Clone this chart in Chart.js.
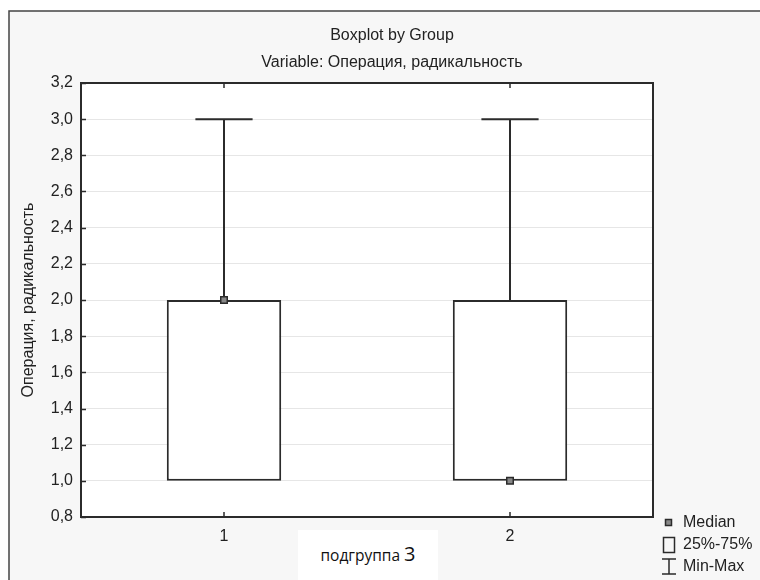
<!DOCTYPE html>
<html lang="ru">
<head>
<meta charset="utf-8">
<title>Boxplot by Group</title>
<script src="https://cdn.jsdelivr.net/npm/chart.js@4/dist/chart.umd.min.js"></script>
<style>
    body { margin: 0; background: #fff; }
    #wrap { position: relative; width: 760px; height: 580px; }
    #x-title {
        position: absolute;
        left: 298px;
        top: 530px;
        width: 140px;
        height: 50px;
        background: #fff;
        font-family: "Open Sans", "Noto Sans", sans-serif;
        font-size: 15.5px;
        color: #111;
        text-align: center;
        line-height: 48px;
    }
    #x-title span { font-size: 20px; }
</style>
</head>
<body>
<div id="wrap">
    <canvas id="chart-box" width="760" height="580"></canvas>
    <div id="x-title">подгруппа <span>3</span></div>
</div>
<script>
const groups = ["1", "2"];
const mins = [1, 1];
const q1 = [1, 1];
const medians = [2, 1];
const q3 = [2, 2];
const maxs = [3, 3];
const yMin = 0.8;
const yMax = 3.2;
const yStep = 0.2;

const chartTitle = "Boxplot by Group";
const chartSubtitle = "Variable: Операция, радикальность";
const yTitle = "Операция, радикальность";
const legendItems = ["Median", "25%-75%", "Min-Max"];

const fontName = "'Liberation Sans', Arial, sans-serif";
const ink = "#2b2b2b";

const boxPlugin = {
    id: "boxPlugin",
    beforeDraw(chart) {
        const ctx = chart.ctx;
        const area = chart.chartArea;
        ctx.save();
        ctx.fillStyle = "#ffffff";
        ctx.fillRect(0, 0, chart.width, chart.height);
        ctx.fillStyle = "#f7f7f7";
        ctx.fillRect(9, 11, chart.width, chart.height);
        ctx.strokeStyle = "#444";
        ctx.lineWidth = 1.5;
        ctx.beginPath();
        ctx.moveTo(9, chart.height);
        ctx.lineTo(9, 11);
        ctx.lineTo(chart.width, 11);
        ctx.stroke();
        ctx.fillStyle = "#ffffff";
        ctx.fillRect(area.left, area.top, area.right - area.left, area.bottom - area.top);

        ctx.fillStyle = "#222";
        ctx.font = "16px " + fontName;
        ctx.textAlign = "center";
        ctx.textBaseline = "middle";
        ctx.fillText(chartTitle, 392, 36);
        ctx.fillText(chartSubtitle, 392, 63);
        ctx.restore();
    },
    beforeDatasetsDraw(chart) {
        // whiskers min-max, behind the boxes
        const ctx = chart.ctx;
        const x = chart.scales.x;
        const y = chart.scales.y;
        const bars = chart.getDatasetMeta(1).data;
        ctx.save();
        ctx.strokeStyle = ink;
        ctx.lineWidth = 2;
        groups.forEach((g, i) => {
            const cx = Math.round(x.getPixelForValue(i));
            const half = bars[i].width / 4;
            ctx.beginPath();
            if (maxs[i] > q3[i]) {
                const yTop = y.getPixelForValue(maxs[i]);
                ctx.moveTo(cx, y.getPixelForValue(q3[i]));
                ctx.lineTo(cx, yTop);
                ctx.moveTo(cx - half, yTop);
                ctx.lineTo(cx + half, yTop);
            }
            if (mins[i] < q1[i]) {
                const yLow = y.getPixelForValue(mins[i]);
                ctx.moveTo(cx, y.getPixelForValue(q1[i]));
                ctx.lineTo(cx, yLow);
                ctx.moveTo(cx - half, yLow);
                ctx.lineTo(cx + half, yLow);
            }
            ctx.stroke();
        });
        ctx.restore();
    },
    afterDraw(chart) {
        const ctx = chart.ctx;
        const area = chart.chartArea;
        const x = chart.scales.x;
        const y = chart.scales.y;
        ctx.save();
        ctx.strokeStyle = ink;
        ctx.lineWidth = 1.5;
        ctx.beginPath();
        y.ticks.forEach((t) => {
            const py = Math.round(y.getPixelForValue(t.value)) + 0.5;
            ctx.moveTo(area.left, py);
            ctx.lineTo(area.left + 5, py);
        });
        groups.forEach((g, i) => {
            const px = Math.round(x.getPixelForValue(i));
            ctx.moveTo(px, area.top);
            ctx.lineTo(px, area.top + 5);
            ctx.moveTo(px, area.bottom);
            ctx.lineTo(px, area.bottom - 5);
        });
        ctx.stroke();

        ctx.lineWidth = 2;
        ctx.strokeRect(area.left, area.top, area.right - area.left, area.bottom - area.top);

        // legend
        ctx.lineWidth = 1.5;
        ctx.fillStyle = "#888";
        ctx.fillRect(665.5, 519.5, 6, 6);
        ctx.strokeRect(665.5, 519.5, 6, 6);
        ctx.strokeRect(663.5, 537.5, 11, 15);
        ctx.beginPath();
        ctx.moveTo(662, 559);
        ctx.lineTo(676, 559);
        ctx.moveTo(669, 559);
        ctx.lineTo(669, 574);
        ctx.moveTo(662, 574);
        ctx.lineTo(676, 574);
        ctx.stroke();

        ctx.fillStyle = "#222";
        ctx.font = "16px " + fontName;
        ctx.textAlign = "left";
        ctx.textBaseline = "middle";
        ctx.fillText(legendItems[0], 683, 523);
        ctx.fillText(legendItems[1], 683, 545);
        ctx.fillText(legendItems[2], 683, 567);
        ctx.restore();
    }
};

new Chart(document.getElementById("chart-box"), {
    data: {
        labels: groups,
        datasets: [
            {
                type: "line",
                label: legendItems[0],
                data: medians,
                order: 1,
                showLine: false,
                pointStyle: "rect",
                pointRadius: 4.6,
                pointBackgroundColor: "#888",
                pointBorderColor: ink,
                pointBorderWidth: 1.5
            },
            {
                type: "bar",
                label: legendItems[1],
                data: groups.map((g, i) => [q1[i], q3[i]]),
                order: 2,
                backgroundColor: "#ffffff",
                borderColor: ink,
                borderWidth: 2,
                borderSkipped: false,
                barPercentage: 0.4,
                categoryPercentage: 1.0
            }
        ]
    },
    options: {
        responsive: false,
        animation: false,
        layout: {
            padding: { left: 10, top: 83, right: 107, bottom: 0 }
        },
        plugins: {
            legend: { display: false },
            title: { display: false },
            tooltip: { enabled: false }
        },
        scales: {
            x: {
                offset: true,
                grid: { display: false, drawTicks: false },
                border: { display: false },
                ticks: {
                    padding: 10,
                    color: "#222",
                    font: { family: fontName, size: 16 }
                },
                afterFit(scale) {
                    scale.height = 63;
                }
            },
            y: {
                min: yMin,
                max: yMax,
                grid: { color: "#e6e6e6", lineWidth: 1, drawTicks: false },
                border: { display: false },
                ticks: {
                    stepSize: yStep,
                    padding: 8,
                    color: "#222",
                    font: { family: fontName, size: 16 },
                    callback: (v) => v.toFixed(1).replace(".", ",")
                },
                title: {
                    display: true,
                    text: yTitle,
                    color: "#222",
                    font: { family: fontName, size: 16 },
                    padding: { top: 9, bottom: 0 }
                },
                afterFit(scale) {
                    scale.width = 71;
                }
            }
        }
    },
    plugins: [boxPlugin]
});
</script>
</body>
</html>
